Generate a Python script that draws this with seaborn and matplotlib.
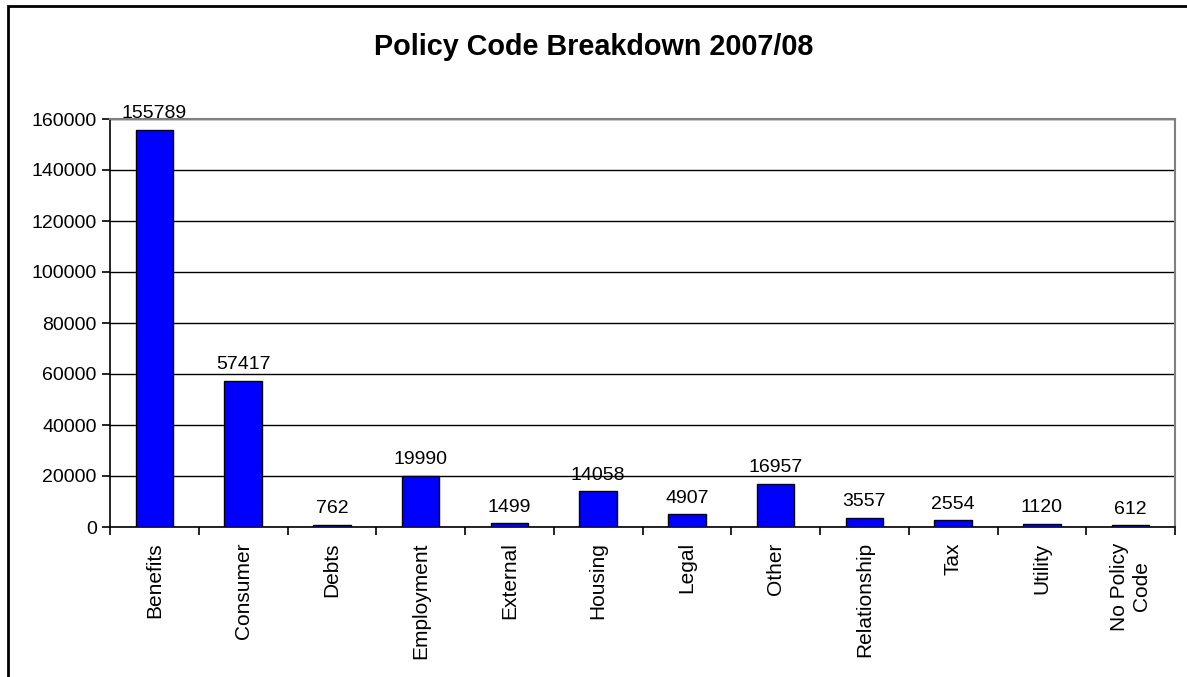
import pandas as pd
import matplotlib.pyplot as plt
import seaborn as sns
from matplotlib.patches import Rectangle

# values
categories = ["Benefits", "Consumer", "Debts", "Employment", "External", "Housing",
              "Legal", "Other", "Relationship", "Tax", "Utility", "No Policy\nCode"]
counts = [155789, 57417, 762, 19990, 1499, 14058, 4907, 16957, 3557, 2554, 1120, 612]
y_ticks = [0, 20000, 40000, 60000, 80000, 100000, 120000, 140000, 160000]

df = pd.DataFrame({"code": categories, "count": counts})

sns.set_style("white")
plt.rcParams['font.family'] = ['Liberation Sans', 'DejaVu Sans']
plt.rcParams['text.color'] = 'black'
plt.rcParams['xtick.color'] = 'black'
plt.rcParams['ytick.color'] = 'black'

fig = plt.figure(figsize=(11.87, 6.77), dpi=100)
ax = fig.add_axes([110 / 1187, 1 - 527 / 677, 1065 / 1187, 408 / 677])

sns.barplot(data=df, x="code", y="count", color="#0000FF", saturation=1,
            width=0.42, edgecolor="black", linewidth=1, ax=ax, zorder=3)

ax.set_xlim(-0.5, len(categories) - 0.5)
ax.set_ylim(0, 160000)
ax.set_yticks(y_ticks)
ax.set_yticklabels([str(t) for t in y_ticks], fontsize=14)
ax.yaxis.grid(True, color="black", linewidth=1, zorder=0)
ax.set_xlabel("")
ax.set_ylabel("")

# category labels, ticks sit between the bars
ax.set_xticks(range(len(categories)))
ax.set_xticklabels(categories, rotation=90, fontsize=15, ha="center", va="top",
                   multialignment="center")
ax.tick_params(axis="x", which="major", length=0, pad=11)
ax.set_xticks([i - 0.5 for i in range(len(categories) + 1)], minor=True)
ax.tick_params(axis="x", which="minor", bottom=True, length=6, width=1.2,
               color="black", direction="out")
ax.tick_params(axis="y", left=True, length=6, width=1.2, color="black", direction="out")

for side in ["left", "bottom"]:
    ax.spines[side].set_color("black")
    ax.spines[side].set_linewidth(1.2)
for side in ["top", "right"]:
    ax.spines[side].set_color("#808080")
    ax.spines[side].set_linewidth(1.5)

for i, v in enumerate(counts):
    ax.text(i, v + 3000, str(v), ha="center", va="bottom", fontsize=14)

fig.text(0.5, 1 - 47 / 677, "Policy Code Breakdown 2007/08", ha="center", va="center",
         fontsize=20.7, fontweight="bold")

# outer chart frame, cut off at the right and bottom
fig.patches.append(Rectangle((8 / 1187, -0.1), 1.2, 1 - 6 / 677 + 0.1,
                             transform=fig.transFigure, fill=False,
                             edgecolor="black", linewidth=2))

fig.savefig("out.png", dpi=100)
